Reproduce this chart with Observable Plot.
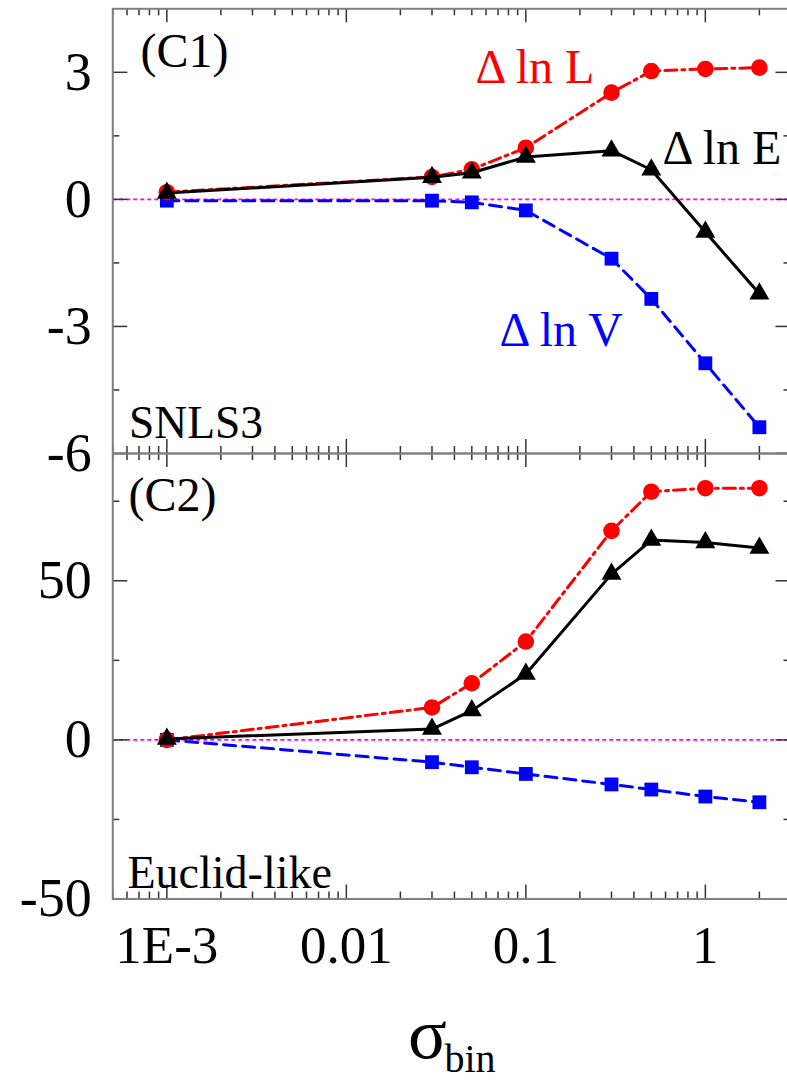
<!DOCTYPE html>
<html><head><meta charset="utf-8">
<script src="https://cdn.jsdelivr.net/npm/d3@7"></script>
<script src="https://cdn.jsdelivr.net/npm/@observablehq/plot@0.6"></script>
<style>
html,body{margin:0;padding:0;background:#fff;overflow:hidden;}
#wrap{position:relative;width:787px;height:1080px;overflow:hidden;}
#wrap svg{position:absolute;left:0;overflow:visible;}
#wrap svg text{font-family:'Liberation Serif','Times New Roman',serif;}
</style></head><body><div id="wrap"></div>
<script>
// ---- data ----
const sigma = [0.001, 0.03, 0.05, 0.1, 0.3, 0.5, 1, 2];
// panel C1 (SNLS3)
const c1L = [0.17, 0.53, 0.71, 1.22, 2.52, 3.03, 3.08, 3.11];
const c1E = [0.15, 0.52, 0.63, 1.00, 1.15, 0.70, -0.77, -2.23];
const c1V = [-0.03, -0.03, -0.07, -0.26, -1.40, -2.35, -3.87, -5.38];
// panel C2 (Euclid-like)
const c2L = [0.0, 10.2, 17.8, 30.9, 65.7, 78.0, 79.1, 79.1];
const c2E = [0.3, 3.4, 9.2, 20.7, 52.1, 62.8, 62.0, 60.3];
const c2V = [0.0, -7.0, -8.6, -10.7, -14.0, -15.6, -17.8, -19.6];
// ticks
const xMajor = [0.001, 0.01, 0.1, 1];
const xMajorLabels = ["1E-3", "0.01", "0.1", "1"];
const c1Major = [3, 0, -3, -6];
const c1MajorLabels = ["3", "0", "-3", "-6"];
const c1Minor = [1.5, -1.5, -4.5];
const c2Major = [50, 0, -50];
const c2MajorLabels = ["50", "0", "-50"];
const c2Minor = [75, 25, -25];
const xMinor = [];
for (const dec of [1e-4, 1e-3, 1e-2, 1e-1, 1]) for (let k = 2; k <= 9; k++) {
  const v = k * dec; if (v >= 5e-4 && v <= 3) xMinor.push(v);
}

const FONT = "'Liberation Serif', 'Times New Roman', serif";
const X0 = 112.3, X1 = 790.5, W = 787;

function panel(o) {
  const plotW = X1 - X0;
  const plotH = o.height - o.marginTop - o.marginBottom;
  const rows = sigma.map((s, i) => ({s, L: o.L[i], E: o.E[i], V: o.V[i]}));
  const tk = {stroke: "#333", strokeWidth: 1.5};
  const marks = [
    Plot.ruleY([0], {stroke: "#ff00ff", strokeWidth: 1.6, strokeDasharray: "4,3"}),
    // ticks
    Plot.tickX(xMajor, {x: d => d, insetTop: plotH - 14, ...tk}),
    Plot.tickX(xMajor, {x: d => d, insetBottom: plotH - 14, ...tk}),
    Plot.tickX(xMinor, {x: d => d, insetTop: plotH - 7, ...tk}),
    Plot.tickX(xMinor, {x: d => d, insetBottom: plotH - 7, ...tk}),
    Plot.tickY(o.yMajor, {y: d => d, insetRight: plotW - 15, ...tk}),
    Plot.tickY(o.yMajor, {y: d => d, insetLeft: plotW - 15, ...tk}),
    Plot.tickY(o.yMinor, {y: d => d, insetRight: plotW - 7, ...tk}),
    Plot.tickY(o.yMinor, {y: d => d, insetLeft: plotW - 7, ...tk}),
    Plot.frame({stroke: "#808080", strokeWidth: 2}),
    // series
    Plot.line(rows, {x: "s", y: "V", stroke: "#0000ff", strokeWidth: 3, strokeDasharray: "12,7"}),
    Plot.dot(rows, {x: "s", y: "V", symbol: "square", r: 7.8, fill: "#0000ff"}),
    Plot.line(rows, {x: "s", y: "L", stroke: "#ff0000", strokeWidth: 3, strokeDasharray: "12,5,3,5"}),
    Plot.dot(rows, {x: "s", y: "L", r: 8.3, fill: "#ff0000"}),
    Plot.line(rows, {x: "s", y: "E", stroke: "#000", strokeWidth: 3}),
    Plot.dot(rows, {x: "s", y: "E", symbol: "triangle", r: 7.4, fill: "#000"}),
    // y tick labels
    Plot.text(o.yMajor, {y: d => d, text: (d, i) => o.yLabels[i], frameAnchor: "left", textAnchor: "end",
      dx: -21, fontSize: 54, lineAnchor: "middle", fill: "#000", fontFamily: FONT}),
    ...o.extra
  ];
  return Plot.plot({
    width: W, height: o.height,
    marginLeft: X0, marginRight: W - X1, marginTop: o.marginTop, marginBottom: o.marginBottom,
    x: {type: "log", domain: [5e-4, 3], range: [X0, X1], axis: null},
    y: {domain: o.yDomain, axis: null},
    style: "font-family: 'Liberation Serif', 'Times New Roman', serif; background: transparent; overflow: visible;",
    marks
  });
}

function label(txt, opts) {
  return Plot.text([txt], {text: d => d, lineAnchor: "bottom", textAnchor: "start", fontSize: 48, fill: "#000",
    fontFamily: FONT, ...opts});
}

const topPanel = panel({
  height: 453, marginTop: 8.3, marginBottom: 0, yDomain: [-6, 4.5],
  L: c1L, E: c1E, V: c1V, yMajor: c1Major, yMinor: c1Minor, yLabels: c1MajorLabels,
  extra: [
    label("(C1)", {frameAnchor: "top-left", dx: 27.7, dy: 57.7}),
    label("\u0394 ln L", {frameAnchor: "top-left", dx: 362.7, dy: 73.7, fill: "#ff0000"}),
    label("\u0394 ln E", {frameAnchor: "top-left", dx: 549.7, dy: 154.7, fill: "#000"}),
    label("\u0394 ln V", {frameAnchor: "top-left", dx: 386.7, dy: 336.7, fill: "#0000ff"}),
    label("SNLS3", {frameAnchor: "top-left", dx: 16.2, dy: 428.7, fontSize: 45.5})
  ]
});

const bottomPanel = panel({
  height: 627, marginTop: 0, marginBottom: 181.5, yDomain: [-50, 90],
  L: c2L, E: c2E, V: c2V, yMajor: c2Major, yMinor: c2Minor, yLabels: c2MajorLabels,
  extra: [
    label("(C2)", {frameAnchor: "top-left", dx: 15.7, dy: 57}),
    label("Euclid-like", {frameAnchor: "top-left", dx: 14.7, dy: 434, fontSize: 46}),
    Plot.text(xMajor, {x: d => d, text: (d, i) => xMajorLabels[i], frameAnchor: "bottom", dy: 63.5,
      lineAnchor: "bottom", textAnchor: "middle", fontSize: 53, fill: "#000", fontFamily: FONT}),
    Plot.text(["\u03C3"], {text: d => d, frameAnchor: "bottom", dx: -24.4, dy: 158.5, lineAnchor: "bottom",
      textAnchor: "middle", fontSize: 72, fill: "#000", fontFamily: FONT}),
    Plot.text(["bin"], {text: d => d, frameAnchor: "bottom", dx: -7.4, dy: 173, lineAnchor: "bottom",
      textAnchor: "start", fontSize: 40, fill: "#000", fontFamily: FONT})
  ]
});

const wrap = document.getElementById("wrap");
topPanel.style.top = "0px";
bottomPanel.style.top = "453px";
wrap.appendChild(bottomPanel);
wrap.appendChild(topPanel);
</script></body></html>
